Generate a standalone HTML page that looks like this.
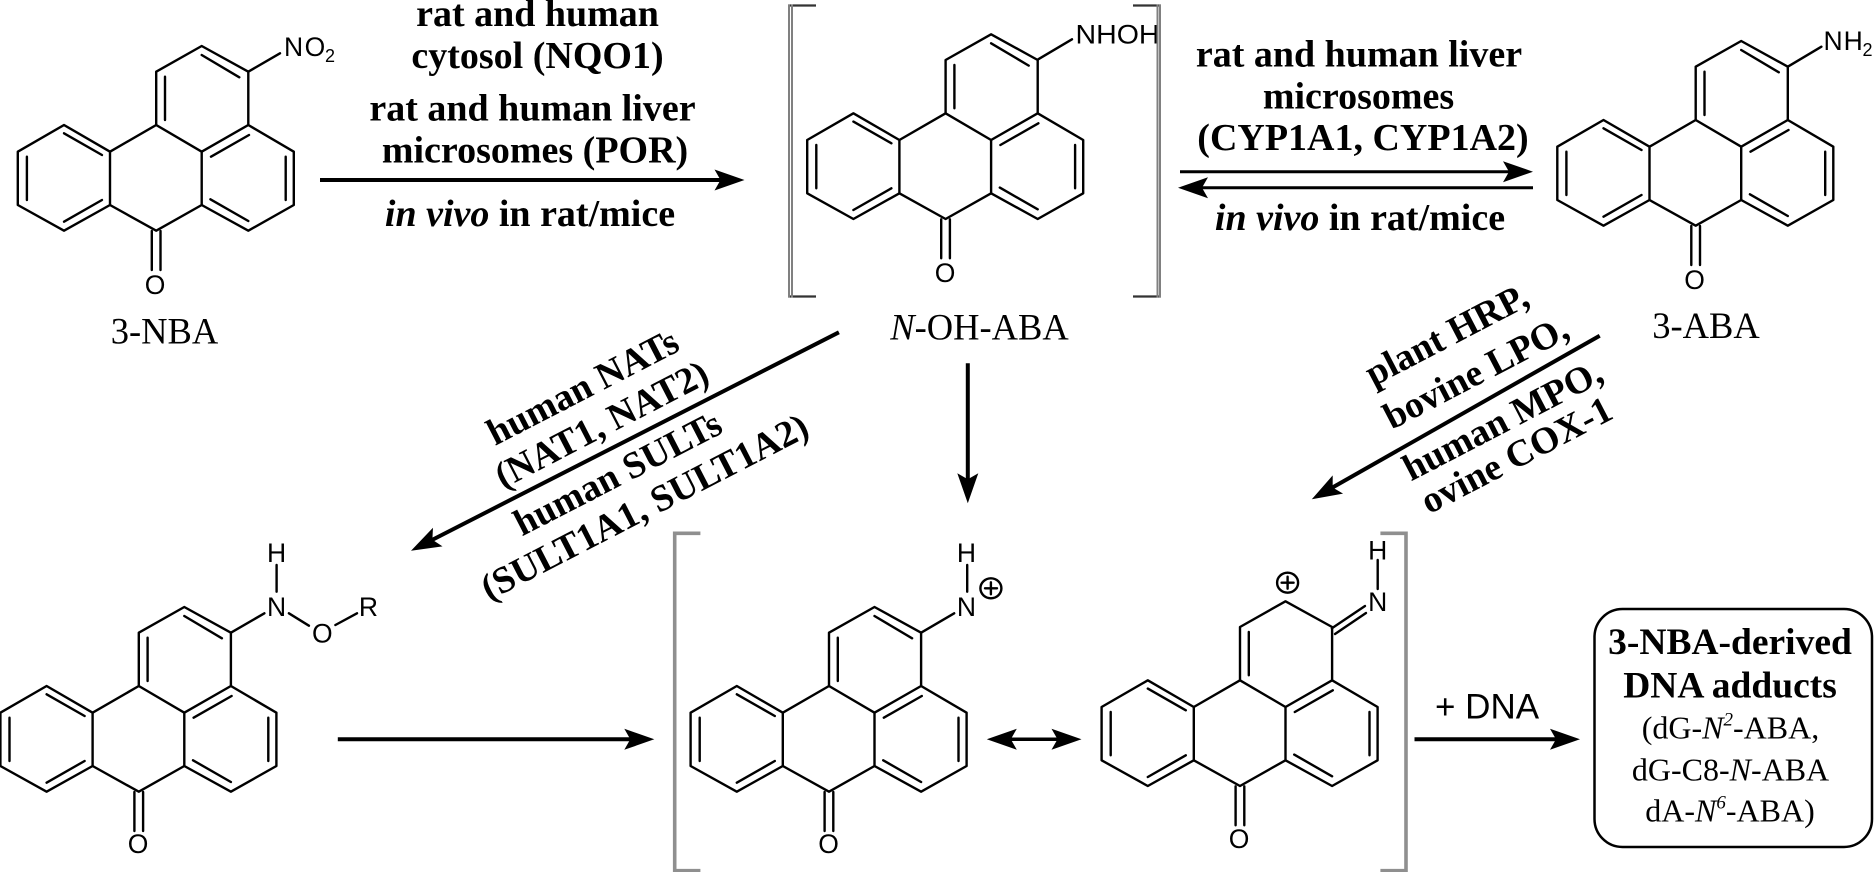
<!DOCTYPE html>
<html><head><meta charset="utf-8"><style>
html,body{margin:0;padding:0;background:#fff;width:1874px;height:872px;overflow:hidden}
svg{display:block}
.b{stroke:#000;stroke-width:2.4;fill:none;stroke-linecap:round;stroke-linejoin:round}
.a{font-family:"Liberation Sans",sans-serif;font-size:26.5px;fill:#000;text-anchor:middle}
.x{font-family:"Liberation Sans",sans-serif;font-size:26.5px;fill:#000}
.u{font-family:"Liberation Sans",sans-serif;font-size:18px;fill:#000}
.s{font-family:"Liberation Serif",serif;font-size:36.5px;fill:#000;text-anchor:middle}
.t{font-family:"Liberation Serif",serif;font-size:38px;font-weight:bold;fill:#000;text-anchor:middle}
.r{font-family:"Liberation Serif",serif;font-size:37.6px;font-weight:bold;fill:#000}
.c{font-family:"Liberation Serif",serif;font-size:32px;fill:#000;text-anchor:middle}
.l{stroke:#000;fill:none}
</style></head><body>
<svg width="1874" height="872" viewBox="0 0 1874 872" xmlns="http://www.w3.org/2000/svg">
<defs>
<g id="core" class="b">
<path d="M17.8 151.7L64 125L110 151.7L110 205L64 230.7L17.8 205Z"/>
<path d="M110 151.7L156.2 125L201.7 151.7L201.7 205L156.2 230.7L110 205"/>
<path d="M156.2 125L156.2 71.7L201.7 46L248.3 71.7L248.3 125L201.7 151.7"/>
<path d="M248.3 125L293.8 151.7L293.8 205L248.3 230.7L201.7 205"/>
<path d="M26.9 156.7V200M64 133.3L102 155M64 221.7L102 200"/>
<path d="M165 76.7V120"/>
<path d="M211 156.7L249 135M285.7 156.7V200M210.4 199.3L248.3 221"/>
<path d="M151.8 231V270M160.5 231V270"/>
</g>
<path id="h" d="M0 0L-30 -10.5L-24 0L-30 10.5Z" fill="#000"/>
</defs>

<!-- molecules -->
<use href="#core"/>
<path class="b" d="M201.7 55L239.3 77.3M248.3 71.7L280 53.3"/>
<use href="#core" x="789.4" y="-11.7"/>
<path class="b" d="M991.1 43.3L1028.7 65.6M1038.2 59.3L1072 39.3"/>
<use href="#core" x="1539.5" y="-5"/>
<path class="b" d="M1741.2 50L1778.8 72.3M1787.8 66.7L1821.4 46.7"/>
<use href="#core" x="-17.4" y="561"/>
<path class="b" d="M184.3 616L221.9 638.3M230.9 632.7L264.4 613.3M276.6 565V591.7M288.9 613.3L308.9 625.7M335.4 625L357 613.3"/>
<use href="#core" x="672.8" y="561"/>
<path class="b" d="M874.5 616L912.1 638.3M921.1 632.7L954.2 613.3M967.2 565V591.7"/>
<use href="#core" x="1083.8" y="555.3"/>
<path class="b" d="M1331.9 628.3L1365 606M1335 634L1366 613M1377.7 560V589"/>

<!-- atom labels -->
<text class="a" x="155" y="294">O</text>
<text class="x" x="284" y="56" letter-spacing="1.5">NO</text><text class="u" x="325" y="62">2</text>
<text class="x" x="1075.5" y="43.3" textLength="84" lengthAdjust="spacingAndGlyphs">NHOH</text>
<text class="a" x="945" y="282">O</text>
<text class="x" x="1823.5" y="50" letter-spacing="1">NH</text><text class="u" x="1862.5" y="56">2</text>
<text class="a" x="1694.5" y="289">O</text>
<text class="a" x="276.6" y="562">H</text><text class="a" x="276.6" y="616">N</text>
<text class="a" x="322.3" y="642.5">O</text><text class="a" x="368.4" y="616">R</text>
<text class="a" x="138" y="853">O</text>
<text class="a" x="966.4" y="562">H</text><text class="a" x="966.4" y="616">N</text>
<text class="a" x="828.5" y="853">O</text>
<text class="a" x="1377.7" y="559.5">H</text><text class="a" x="1377.7" y="611">N</text>
<text class="a" x="1239" y="848">O</text>
<g class="b"><ellipse cx="990.9" cy="588.3" rx="10.5" ry="10"/><path d="M985 588.3H997M990.9 582.3V594.3"/><ellipse cx="1287.6" cy="582.7" rx="10.5" ry="10"/><path d="M1281.6 582.7H1293.6M1287.6 576.7V588.7"/></g>

<!-- name labels -->
<text class="s" x="164.5" y="343.3">3-NBA</text>
<text class="s" x="979.5" y="339.3"><tspan font-style="italic">N</tspan>-OH-ABA</text>
<text class="s" x="1706" y="338">3-ABA</text>

<!-- brackets -->
<g fill="none" stroke-linecap="butt">
<path d="M816 5.5H788M816 296.5H788" stroke="#333" stroke-width="2.2"/>
<path d="M789 4.5V297.5M792 4.5V297.5" stroke="#808080" stroke-width="2"/>
<path d="M1133 5.5H1161M1133 296.5H1161" stroke="#333" stroke-width="2.2"/>
<path d="M1160 4.5V297.5M1157.5 4.5V297.5" stroke="#808080" stroke-width="2"/>
<path d="M700.4 533.3H674.7V870.7H700.4" stroke="#8f8f8f" stroke-width="3.6"/>
<path d="M1380.4 533.3H1406V870.7H1380.4" stroke="#8f8f8f" stroke-width="3.6"/>
</g>

<!-- arrows -->
<g class="l" stroke-width="3.5">
<path d="M320 180H725" stroke-width="4"/>
<path d="M1180 171.7H1515" stroke-width="3"/>
<path d="M1190 187.7H1533" stroke-width="3"/>
<path d="M967.8 363.3V485" stroke-width="4"/>
<path d="M838.9 332.3L428.8 541.6" stroke-width="4"/>
<path d="M1599.7 335.7L1329.2 489.4" stroke-width="4"/>
<path d="M337.8 739.3H635" stroke-width="4"/>
<path d="M1000 739.3H1068"/>
<path d="M1414.5 739.3H1560" stroke-width="4"/>
</g>
<use href="#h" x="744.5" y="180"/>
<use href="#h" transform="translate(1533 171.7)"/>
<use href="#h" transform="translate(1178 187.7) rotate(180)"/>
<use href="#h" transform="translate(967.8 503.3) rotate(90)"/>
<use href="#h" transform="translate(411 550.7) rotate(153)"/>
<use href="#h" transform="translate(1311.8 499.3) rotate(150.4)"/>
<use href="#h" x="654.3" y="739.3"/>
<use href="#h" transform="translate(986.8 739.3) rotate(180)"/>
<use href="#h" x="1081.5" y="739.3"/>
<use href="#h" x="1580" y="739.3"/>

<!-- upper labels -->
<text class="t" x="537.5" y="26">rat and human</text>
<text class="t" x="537.5" y="68">cytosol (NQO1)</text>
<text class="t" x="532.5" y="120.7">rat and human liver</text>
<text class="t" x="535" y="162.7">microsomes (POR)</text>
<text class="t" x="530" y="226"><tspan font-style="italic">in vivo</tspan> in rat/mice</text>
<text class="t" x="1359" y="66.7">rat and human liver</text>
<text class="t" x="1358.5" y="108.3">microsomes</text>
<text class="t" x="1363" y="150">(CYP1A1, CYP1A2)</text>
<text class="t" x="1360" y="230"><tspan font-style="italic">in vivo</tspan> in rat/mice</text>

<!-- rotated labels -->
<text class="r" transform="translate(495 446) rotate(-27.3)">human NATs</text>
<text class="r" transform="translate(503 489) rotate(-27.3)">(NAT1, NAT2)</text>
<text class="r" transform="translate(522 536.5) rotate(-27.3)">human SULTs</text>
<text class="r" transform="translate(489 601) rotate(-27.3)">(SULT1A1, SULT1A2)</text>
<text class="r" transform="translate(1373.3 386.7) rotate(-27.5)">plant HRP,</text>
<text class="r" transform="translate(1391.7 430) rotate(-27.5)">bovine LPO,</text>
<text class="r" transform="translate(1411 481.5) rotate(-27.5)">human MPO,</text>
<text class="r" transform="translate(1429 514.5) rotate(-27.5)">ovine COX-1</text>

<!-- DNA -->
<text x="1435" y="718.3" style="font-family:'Liberation Sans',sans-serif;font-size:35px">+ DNA</text>
<rect x="1594.5" y="609" width="277.5" height="238" rx="28" ry="28" fill="none" stroke="#000" stroke-width="2.5"/>
<text class="t" x="1730" y="654" style="font-size:37.5px">3-NBA-derived</text>
<text class="t" x="1730" y="697.3" style="font-size:37.5px">DNA adducts</text>
<text class="c" x="1730.5" y="738.3">(dG-<tspan font-style="italic">N</tspan><tspan font-style="italic" font-size="19" dy="-13">2</tspan><tspan dy="13">-ABA,</tspan></text>
<text class="c" x="1730.5" y="780.7">dG-C8-<tspan font-style="italic">N</tspan>-ABA</text>
<text class="c" x="1730" y="821.7">dA-<tspan font-style="italic">N</tspan><tspan font-style="italic" font-size="19" dy="-13">6</tspan><tspan dy="13">-ABA)</tspan></text>
</svg>
</body></html>
